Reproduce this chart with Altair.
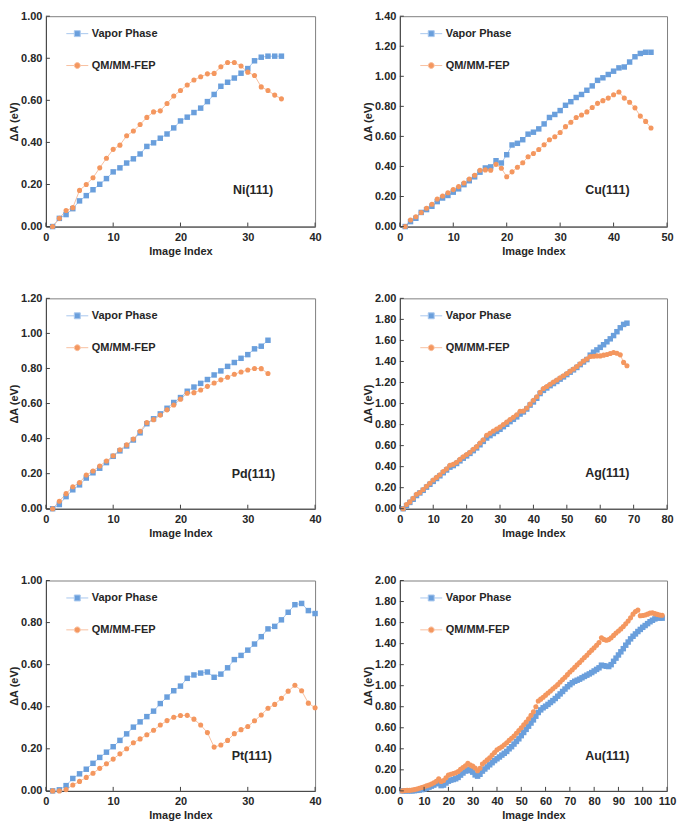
import altair as alt
import pandas as pd

FONT = "Liberation Sans"
TXT = "#262626"
SERIES = ["Vapor Phase", "QM/MM-FEP"]
MARK_COLORS = ["#6a9fdc", "#f4975f"]
LINE_COLORS = ["#a9c8ee", "#f8c0a0"]
SHAPES = ["square", "circle"]

# ---------------- data ----------------
ni_vapor = [0.0, 0.039, 0.057, 0.085, 0.122, 0.147, 0.175, 0.201, 0.228, 0.26, 0.279, 0.302, 0.322, 0.345, 0.381,
            0.398, 0.42, 0.44, 0.469, 0.502, 0.52, 0.542, 0.563, 0.594, 0.628, 0.667, 0.686, 0.706, 0.729, 0.751,
            0.788, 0.805, 0.81, 0.81, 0.81]
ni_qm = [0.0, 0.039, 0.076, 0.09, 0.172, 0.2, 0.232, 0.279, 0.325, 0.367, 0.387, 0.432, 0.454, 0.485, 0.519, 0.545,
         0.55, 0.585, 0.621, 0.647, 0.673, 0.697, 0.712, 0.726, 0.728, 0.76, 0.78, 0.78, 0.763, 0.734, 0.718, 0.664,
         0.647, 0.625, 0.607]

cu_vapor = [0.0, 0.033, 0.055, 0.094, 0.113, 0.135, 0.166, 0.19, 0.207, 0.229,
            0.251, 0.279, 0.305, 0.331, 0.362, 0.39, 0.397, 0.438, 0.423, 0.478,
            0.543, 0.554, 0.578, 0.615, 0.628, 0.65, 0.683, 0.726, 0.746, 0.772,
            0.807, 0.831, 0.859, 0.879, 0.907, 0.936, 0.973, 0.99, 1.012, 1.034,
            1.056, 1.062, 1.095, 1.13, 1.152, 1.16, 1.16]
cu_qm = [0.0, 0.044, 0.065, 0.094, 0.122, 0.148, 0.183, 0.203, 0.225, 0.246,
         0.266, 0.29, 0.316, 0.342, 0.375, 0.377, 0.375, 0.414, 0.388, 0.332,
         0.364, 0.395, 0.425, 0.465, 0.486, 0.513, 0.545, 0.578, 0.598, 0.626,
         0.665, 0.694, 0.726, 0.742, 0.763, 0.792, 0.82, 0.838, 0.855, 0.877,
         0.896, 0.855, 0.827, 0.79, 0.735, 0.7, 0.656]

pd_vapor = [0.0, 0.024, 0.069, 0.108, 0.136, 0.175, 0.205, 0.231, 0.263, 0.299,
            0.33, 0.358, 0.392, 0.433, 0.485, 0.513, 0.541, 0.573, 0.606, 0.634,
            0.67, 0.694, 0.715, 0.737, 0.763, 0.786, 0.812, 0.834, 0.858, 0.879,
            0.912, 0.927, 0.961]
pd_qm = [0.0, 0.043, 0.086, 0.125, 0.149, 0.192, 0.215, 0.244, 0.272, 0.302,
         0.336, 0.364, 0.397, 0.442, 0.491, 0.508, 0.534, 0.564, 0.592, 0.625,
         0.659, 0.662, 0.677, 0.698, 0.717, 0.735, 0.75, 0.767, 0.78, 0.791,
         0.8, 0.799, 0.771]

ag_vapor = [0.0, 0.03, 0.06, 0.09, 0.125, 0.15, 0.175, 0.205, 0.232, 0.26,
            0.287, 0.313, 0.342, 0.368, 0.395, 0.41, 0.43, 0.455, 0.48, 0.502,
            0.526, 0.552, 0.578, 0.608, 0.64, 0.672, 0.695, 0.715, 0.735, 0.755,
            0.78, 0.803, 0.828, 0.85, 0.873, 0.9, 0.92, 0.948, 0.985, 1.015,
            1.05, 1.095, 1.125, 1.148, 1.17, 1.19, 1.21, 1.232, 1.253, 1.275,
            1.298, 1.32, 1.343, 1.37, 1.395, 1.418, 1.46, 1.488, 1.51, 1.534,
            1.559, 1.587, 1.615, 1.646, 1.683, 1.72, 1.752, 1.764]
ag_qm = [0.0, 0.04, 0.065, 0.1, 0.137, 0.155, 0.183, 0.214, 0.242, 0.273,
         0.298, 0.323, 0.354, 0.379, 0.413, 0.422, 0.441, 0.469, 0.494, 0.516,
         0.537, 0.565, 0.59, 0.624, 0.655, 0.699, 0.717, 0.739, 0.758, 0.776,
         0.801, 0.823, 0.848, 0.87, 0.894, 0.926, 0.929, 0.957, 0.994, 1.031,
         1.065, 1.106, 1.143, 1.162, 1.183, 1.205, 1.224, 1.245, 1.264, 1.286,
         1.308, 1.329, 1.351, 1.379, 1.404, 1.423, 1.447, 1.45, 1.453, 1.453,
         1.46, 1.466, 1.475, 1.485, 1.478, 1.463, 1.391, 1.36]

pt_vapor = [0.0, 0.005, 0.025, 0.059, 0.081, 0.103, 0.131, 0.159, 0.184, 0.21,
            0.24, 0.271, 0.303, 0.328, 0.353, 0.379, 0.415, 0.446, 0.476, 0.498,
            0.535, 0.551, 0.56, 0.565, 0.54, 0.555, 0.585, 0.624, 0.644, 0.669,
            0.698, 0.733, 0.77, 0.782, 0.813, 0.849, 0.885, 0.891, 0.857, 0.843]
pt_qm = [0.0, 0.0, 0.006, 0.028, 0.045, 0.064, 0.084, 0.107, 0.129, 0.151,
         0.176, 0.2, 0.229, 0.247, 0.267, 0.288, 0.313, 0.334, 0.35, 0.358,
         0.359, 0.341, 0.313, 0.277, 0.208, 0.218, 0.24, 0.272, 0.291, 0.306,
         0.333, 0.361, 0.393, 0.411, 0.44, 0.474, 0.502, 0.476, 0.417, 0.395]

au_vapor = [0.0, 0.0, 0.0, 0.0, 0.0, 0.002, 0.005, 0.008, 0.012, 0.018,
            0.025, 0.035, 0.045, 0.055, 0.068, 0.085, 0.05, 0.055, 0.075, 0.092,
            0.102, 0.108, 0.115, 0.128, 0.15, 0.17, 0.188, 0.205, 0.192, 0.178,
            0.152, 0.14, 0.158, 0.188, 0.208, 0.228, 0.248, 0.268, 0.288, 0.305,
            0.322, 0.34, 0.357, 0.375, 0.40, 0.42, 0.445, 0.47, 0.495, 0.525,
            0.555, 0.585, 0.615, 0.645, 0.675, 0.71, 0.745, 0.77, 0.79, 0.805,
            0.822, 0.84, 0.858, 0.878, 0.9, 0.922, 0.945, 0.968, 0.99, 1.01,
            1.028, 1.042, 1.052, 1.062, 1.075, 1.088, 1.1, 1.112, 1.125, 1.14,
            1.155, 1.17, 1.195, 1.19, 1.185, 1.182, 1.2, 1.232, 1.262, 1.292,
            1.322, 1.352, 1.385, 1.415, 1.445, 1.47, 1.492, 1.515, 1.535, 1.555,
            1.572, 1.59, 1.608, 1.622, 1.635, 1.643, 1.645, 1.642]
au_qm = [0.0, 0.003, 0.005, 0.005, 0.008, 0.012, 0.018, 0.025, 0.032, 0.04,
         0.048, 0.056, 0.066, 0.078, 0.092, 0.115, 0.09, 0.098, 0.125, 0.15,
         0.158, 0.165, 0.172, 0.185, 0.205, 0.222, 0.238, 0.262, 0.245, 0.235,
         0.218, 0.192, 0.215, 0.255, 0.275, 0.295, 0.315, 0.34, 0.365, 0.39,
         0.405, 0.42, 0.438, 0.458, 0.48, 0.5, 0.522, 0.548, 0.573, 0.6,
         0.628, 0.655, 0.685, 0.718, 0.752, 0.8, 0.855, 0.872, 0.89, 0.91,
         0.93, 0.95, 0.97, 0.99, 1.01, 1.035, 1.058, 1.08, 1.105, 1.13,
         1.152, 1.175, 1.198, 1.22, 1.245, 1.268, 1.29, 1.315, 1.338, 1.36,
         1.385, 1.41, 1.455, 1.44, 1.432, 1.438, 1.455, 1.478, 1.5, 1.52,
         1.54, 1.562, 1.588, 1.615, 1.645, 1.68, 1.705, 1.72, 1.665, 1.668,
         1.672, 1.68, 1.69, 1.692, 1.685, 1.678, 1.672, 1.67]

# panel labels and their positions (data coordinates)
names = ["Ni(111)", "Cu(111)", "Pd(111)", "Ag(111)", "Pt(111)", "Au(111)"]
label_x = [27.8, 34.7, 27.6, 55.5, 27.6, 76.3]
label_y = [0.172, 0.242, 0.2, 0.335, 0.167, 0.335]
x_max = [40, 50, 40, 80, 40, 110]
y_max = [1.0, 1.4, 1.2, 2.0, 1.0, 2.0]
x_ticks = [[0, 10, 20, 30, 40], [0, 10, 20, 30, 40, 50], [0, 10, 20, 30, 40],
           [0, 10, 20, 30, 40, 50, 60, 70, 80], [0, 10, 20, 30, 40],
           [0, 10, 20, 30, 40, 50, 60, 70, 80, 90, 100, 110]]
y_ticks = [[0, 0.2, 0.4, 0.6, 0.8, 1.0], [0, 0.2, 0.4, 0.6, 0.8, 1.0, 1.2, 1.4],
           [0, 0.2, 0.4, 0.6, 0.8, 1.0, 1.2],
           [0, 0.2, 0.4, 0.6, 0.8, 1.0, 1.2, 1.4, 1.6, 1.8, 2.0],
           [0, 0.2, 0.4, 0.6, 0.8, 1.0],
           [0, 0.2, 0.4, 0.6, 0.8, 1.0, 1.2, 1.4, 1.6, 1.8, 2.0]]
vapor_all = [ni_vapor, cu_vapor, pd_vapor, ag_vapor, pt_vapor, au_vapor]
qm_all = [ni_qm, cu_qm, pd_qm, ag_qm, pt_qm, au_qm]

# legend symbols: short line with marker
SQ_PATH = "M-1,0H-0.27M0.27,0H1M-0.27,-0.27H0.27V0.27H-0.27Z"
CI_PATH = "M-1,0H-0.27M0.27,0H1M-0.27,0A0.27,0.27 0 1,0 0.27,0A0.27,0.27 0 1,0 -0.27,0Z"

W_COL = [270, 268]
H = 211


def panel(i):
    rows = []
    for s, vals in zip(SERIES, [vapor_all[i], qm_all[i]]):
        for k, v in enumerate(vals):
            rows.append({"idx": k + 1, "val": v, "series": s})
    df = pd.DataFrame(rows)
    xs = alt.Scale(domain=[0, x_max[i]], nice=False, zero=False)
    ys = alt.Scale(domain=[0, y_max[i]], nice=False, zero=False)
    xax = alt.Axis(values=x_ticks[i], title="Image Index", format="d", labelOverlap=False, labelFlush=False)
    yax = alt.Axis(values=y_ticks[i], title="ΔA (eV)", format=".2f", labelOverlap=False, labelFlush=False)
    x = alt.X("idx:Q", scale=xs, axis=xax)
    y = alt.Y("val:Q", scale=ys, axis=yax)
    base = alt.Chart(df)
    layers = []
    for s, lc in zip(SERIES, LINE_COLORS):
        layers.append(base.transform_filter(alt.datum.series == s)
                      .mark_line(color=lc, strokeWidth=1).encode(x=x, y=y))
    for s, mc, sh in zip(SERIES, MARK_COLORS, SHAPES):
        layers.append(base.transform_filter(alt.datum.series == s)
                      .mark_point(shape=sh, filled=True, color=mc, opacity=1,
                                  size=30 if sh == "square" else 26).encode(x=x, y=y))
    # inward tick marks
    xt = pd.DataFrame({"t": x_ticks[i]})
    yt = pd.DataFrame({"t": y_ticks[i]})
    layers.append(alt.Chart(xt).mark_rule(color="#404040", strokeWidth=1).encode(
        x=alt.X("t:Q", scale=xs, axis=xax), y=alt.value(H), y2=alt.value(H - 4)))
    layers.append(alt.Chart(yt).mark_rule(color="#404040", strokeWidth=1).encode(
        y=alt.Y("t:Q", scale=ys, axis=yax), x=alt.value(0), x2=alt.value(4)))
    # panel label
    ann = pd.DataFrame({"ax": [label_x[i]], "ay": [label_y[i]], "label": [names[i]]})
    layers.append(alt.Chart(ann).mark_text(align="left", baseline="middle", font=FONT, fontSize=12.5,
                                           fontWeight="bold", color=TXT).encode(
        x=alt.X("ax:Q", scale=xs, axis=xax), y=alt.Y("ay:Q", scale=ys, axis=yax), text="label:N"))
    # legend carrier (draws no data)
    leg = alt.Legend(orient="none", legendX=20, legendY=6, title=None, symbolSize=484, rowPadding=15,
                     labelFont=FONT, labelFontSize=11, labelFontWeight="bold", labelColor=TXT,
                     symbolStrokeWidth=1, labelOffset=3, direction="vertical")
    layers.append(base.transform_filter("datum.idx < 0").mark_point(filled=True, opacity=1).encode(
        x=x, y=y,
        fill=alt.Fill("series:N", scale=alt.Scale(domain=SERIES, range=MARK_COLORS), legend=leg),
        stroke=alt.Stroke("series:N", scale=alt.Scale(domain=SERIES, range=LINE_COLORS), legend=leg),
        shape=alt.Shape("series:N", scale=alt.Scale(domain=SERIES, range=[SQ_PATH, CI_PATH]), legend=leg),
    ))
    return alt.layer(*layers).properties(width=W_COL[i % 2], height=H)


def indep(c):
    return c.resolve_scale(fill="independent", stroke="independent", shape="independent").resolve_legend(
        fill="independent", stroke="independent", shape="independent")


rows = [indep(alt.hconcat(panel(2 * r), panel(2 * r + 1), spacing=40)) for r in range(3)]
chart = indep(alt.vconcat(*rows, spacing=34)).properties(padding=0).configure_axis(
    labelFont=FONT, titleFont=FONT, labelFontSize=11, titleFontSize=11,
    labelFontWeight="bold", titleFontWeight="bold", labelColor=TXT, titleColor=TXT,
    domainColor="#404040", domainWidth=1, grid=False, ticks=False,
).configure_axisX(labelPadding=5, titlePadding=3).configure_axisY(labelPadding=4, titlePadding=1).configure_view(
    stroke="#7f7f7f", strokeWidth=1)

chart.save("out.html", embed_options={"renderer": "svg", "actions": False})
